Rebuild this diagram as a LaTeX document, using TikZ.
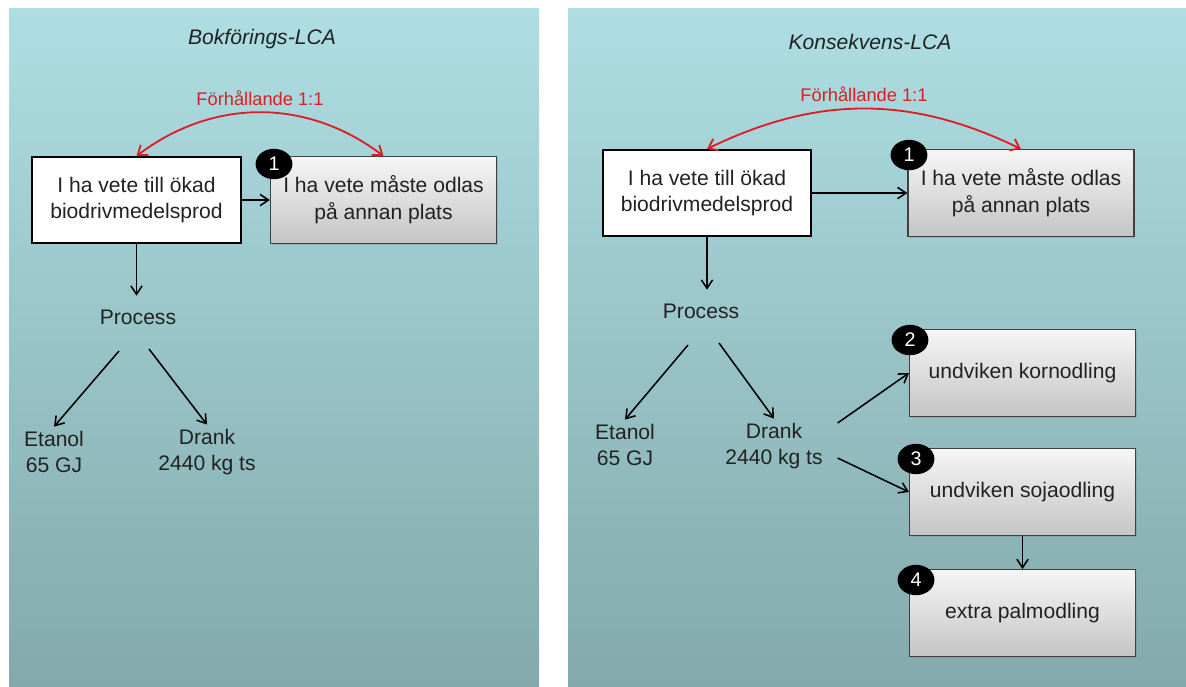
\documentclass[tikz,border=0pt]{standalone}
\usepackage{fontspec}
\setmainfont{Liberation Sans}
\usepackage{xcolor}
\usetikzlibrary{arrows.meta,calc,positioning,shadows,shapes.geometric}

\definecolor{panelTop}{RGB}{174,222,227}
\definecolor{panelBot}{RGB}{131,169,171}
\definecolor{ratioRed}{RGB}{220,30,36}
\definecolor{boxTop}{RGB}{246,246,246}
\definecolor{boxBot}{RGB}{196,196,196}
\definecolor{inkGray}{RGB}{34,34,34}

\begin{document}
\begin{tikzpicture}[x=0.025cm, y=0.025cm]
    \tikzset{
        panel/.style={top color=panelTop, bottom color=panelBot, draw=none},
        paneltitle/.style={font=\fontsize{15}{18}\selectfont\itshape, text=inkGray},
        ratiolabel/.style={font=\fontsize{13}{16}\selectfont, text=ratioRed},
        startbox/.style={draw, line width=1.4pt, fill=white, minimum width=5.2cm, minimum height=2.15cm, align=center, font=\fontsize{15}{19}\selectfont, text=inkGray},
        effectbox/.style={draw=black!75, line width=0.8pt, top color=boxTop, bottom color=boxBot, minimum width=5.65cm, minimum height=2.17cm, align=center, font=\fontsize{15}{19}\selectfont, text=inkGray, drop shadow={shadow xshift=0.8pt, shadow yshift=-0.8pt, opacity=0.35}},
        badge/.style={ellipse, fill=black, text=white, inner sep=0pt, minimum width=0.92cm, minimum height=0.76cm, font=\fontsize{14}{16}\selectfont},
        flowtext/.style={align=center, font=\fontsize{15}{18}\selectfont, text=inkGray},
        flow/.style={-{Straight Barb[length=6pt, width=8pt]}, line width=1.1pt, black},
        ratioarc/.style={{Straight Barb[length=6pt, width=9pt]}-{Straight Barb[length=6pt, width=9pt]}, line width=1.3pt, ratioRed}
    }

    \useasboundingbox (0,0) rectangle (1186,-686);
    \fill[white] (0,0) rectangle (1186,-686);

    % Bokförings-LCA
    \begin{scope}[local bounding box=left]
        \shade[panel] (9,-8) rectangle (539,-686);
        \node[paneltitle] (titleL) at (262,-39) {Bokförings-LCA};

        \node[startbox] (wheatL) at (136.5,-200) {I ha vete till ökad\\biodrivmedelsprod};
        \node[effectbox] (moveL) at (383.5,-200) {I ha vete måste odlas\\på annan plats};
        \node[badge] (oneL) at (274,-164) {1};

        \draw[ratioarc] (wheatL.north) to[bend left=37]
            node[ratiolabel, midway, above=1pt] (ratioL) {Förhållande 1:1} (moveL.north);
        \draw[flow] (wheatL.east) -- (moveL.west);

        \node[flowtext] (procL) at (138,-317) {Process};
        \draw[flow] (wheatL.south) -- ($(wheatL.south |- procL.north)+(0,9)$);

        \node[flowtext] (etanolL) at (54,-452) {Etanol\\65 GJ};
        \node[flowtext] (drankL) at (207,-452) {Drank\\2440 kg ts};
        \draw[flow] ($(procL.center)+(-19,-34)$) -- (etanolL.north);
        \draw[flow] ($(procL.center)+(11,-32)$) -- (drankL.north);
    \end{scope}

    % Konsekvens-LCA
    \begin{scope}[local bounding box=right]
        \shade[panel] (568,-8) rectangle (1186,-686);
        \node[paneltitle] (titleR) at (870,-42) {Konsekvens-LCA};

        \node[startbox] (wheatR) at (707,-193) {I ha vete till ökad\\biodrivmedelsprod};
        \node[effectbox] (moveR) at (1021,-193) {I ha vete måste odlas\\på annan plats};
        \node[badge] (oneR) at (909,-155) {1};

        \draw[ratioarc] (wheatR.north) to[bend left=26]
            node[ratiolabel, midway, above=1pt] (ratioR) {Förhållande 1:1} (moveR.north);
        \draw[flow] (wheatR.east) -- (moveR.west);

        \node[flowtext] (procR) at (701,-311) {Process};
        \draw[flow] (wheatR.south) -- ($(wheatR.south |- procR.north)+(0,9)$);

        \node[flowtext] (etanolR) at (625,-445) {Etanol\\65 GJ};
        \node[flowtext] (drankR) at (774,-446) {Drank\\2440 kg ts};
        \draw[flow] ($(procR.center)+(-13,-34)$) -- (etanolR.north);
        \draw[flow] ($(procR.center)+(18,-32)$) -- (drankR.north);

        \node[effectbox] (barley) at (1022.5,-373) {undviken kornodling};
        \node[effectbox] (soy) at (1022.5,-492) {undviken sojaodling};
        \node[effectbox] (palm) at (1022.5,-613) {extra palmodling};
        \node[badge] (two) at (910,-340) {2};
        \node[badge] (three) at (916,-459) {3};
        \node[badge] (four) at (916,-580) {4};

        \draw[flow] ($(drankR.east)+(10,23)$) -- (barley.west);
        \draw[flow] ($(drankR.east)+(10,-12)$) -- (soy.west);
        \draw[flow] (soy.south) -- (palm.north);
    \end{scope}
\end{tikzpicture}
\end{document}
